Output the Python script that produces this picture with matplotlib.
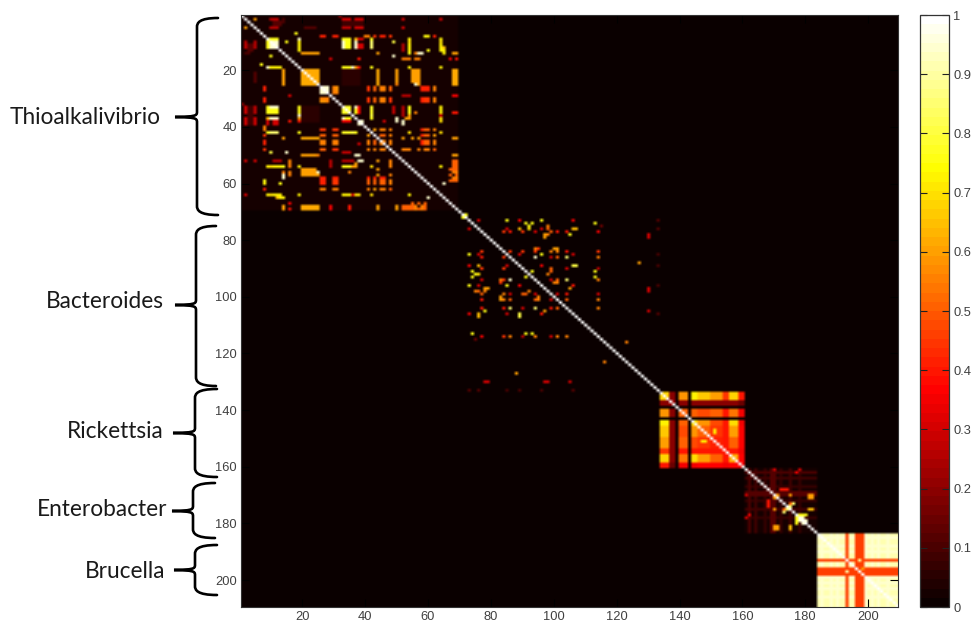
import numpy as np
import matplotlib
matplotlib.use("Agg")
import matplotlib.pyplot as plt
from matplotlib.path import Path
from matplotlib.patches import PathPatch
from matplotlib.colors import ListedColormap

N = 209
TICKS = list(range(20, 201, 20))
CBAR_TICKS = [i / 10 for i in range(11)]
CBAR_LABELS = ['0', '0.1', '0.2', '0.3', '0.4', '0.5', '0.6', '0.7', '0.8', '0.9', '1']

GROUP_NAMES = ['Thioalkalivibrio', 'Bacteroides', 'Rickettsia', 'Enterobacter', 'Brucella']

# (row0, row1, col0, col1, value), 1-indexed, mirrored across the diagonal
thio_patches = [
 (2,2,5,5,.6),(2,2,11,12,.28),(2,2,33,35,.3),(2,2,37,39,.3),(1,1,32,32,.2),(2,3,14,14,.1),
 (3,4,11,13,.12),(3,4,33,39,.08),(5,5,21,24,.12),(7,7,18,18,.75),
 (8,8,26,27,.42),(8,8,41,41,.55),(8,8,43,43,.45),(8,8,45,46,.42),(8,8,48,48,.45),(8,8,59,59,.75),(8,8,62,62,.42),(8,8,30,31,.2),
 (9,12,9,9,.75),(9,9,10,12,.75),(9,9,19,19,.95),(9,9,33,35,.72),(9,9,37,37,.65),(9,9,42,42,.75),(9,9,54,54,.72),(9,9,64,64,.7),
 (10,10,15,15,.75),(10,10,49,49,.8),
 (10,12,10,12,.95),(10,12,19,19,.72),(10,12,33,33,.95),(10,12,34,35,.72),(10,12,37,37,.95),(10,12,42,42,.75),(10,12,54,54,.7),(10,12,64,64,.7),(10,12,2,2,.25),(10,12,5,5,.25),
 (12,13,65,65,.65),(13,13,60,60,.75),
 (14,14,20,25,.6),(14,14,44,44,.6),(14,14,54,54,.75),(14,14,57,57,.95),(14,14,68,69,.55),
 (15,15,49,49,.95),(15,15,10,10,.7),(16,16,29,29,.3),(16,16,52,54,.55),(16,16,56,57,.55),(16,16,67,67,.35),(16,16,69,69,.4),
 (19,19,11,13,.72),(19,19,33,35,.75),(19,19,36,36,.95),(19,19,37,37,.6),(19,19,42,42,.75),(19,19,54,54,.72),(19,19,64,64,.7),
 (20,25,20,25,.62),(20,24,14,14,.6),(20,24,44,44,.6),(20,24,50,50,.6),(20,24,55,55,.6),(20,24,57,57,.6),(20,24,68,68,.58),(20,25,33,38,.06),
 (26,27,8,8,.42),(26,28,26,28,.95),(26,27,30,30,.25),(26,27,31,31,.58),(26,27,41,41,.45),(26,27,43,43,.5),(26,27,45,46,.55),(26,27,48,48,.5),(26,27,58,60,.42),(26,27,62,62,.55),
 (29,29,16,16,.25),(29,29,68,68,.3),(29,29,52,54,.25),
 (30,31,8,8,.42),(30,31,26,28,.55),(30,31,41,41,.45),(30,31,43,43,.5),(30,31,45,46,.55),(30,31,48,48,.45),(30,31,58,60,.42),(30,31,62,62,.55),
 (33,35,2,2,.3),(33,35,5,5,.28),(33,35,9,9,.75),(33,35,10,12,.75),(33,35,19,19,.72),(33,35,33,35,.78),(33,35,37,37,.7),(33,35,38,38,.28),(33,35,42,42,.75),(33,35,49,49,.28),(33,33,54,54,.72),(33,35,64,64,.72),
 (37,39,2,2,.3),(37,39,5,5,.3),(37,39,11,12,.3),(37,37,10,12,.95),(37,39,9,9,.3),(37,38,33,35,.35),(37,37,33,33,.95),(37,37,34,35,.75),(38,39,38,39,.95),(37,37,42,42,.75),(37,38,50,50,.95),(37,37,53,54,.6),(37,38,64,64,.7),(38,38,16,16,.4),(38,38,19,19,.4),(38,38,46,46,.3),
 (40,41,8,8,.55),(41,41,26,27,.45),(41,41,30,31,.45),(41,41,41,41,.55),(41,41,43,43,.6),(41,41,45,46,.55),(41,41,48,48,.55),(41,41,58,60,.42),(41,41,62,62,.55),
 (42,42,10,12,.85),(42,42,19,19,.7),(42,42,33,35,.78),(42,42,36,36,.8),(42,42,37,37,.65),(42,42,9,9,.75),(42,42,42,42,.9),(42,42,54,54,.7),(42,42,64,64,.7),
 (44,44,14,14,.6),(44,44,20,25,.62),(44,44,52,52,.6),(44,44,55,55,.6),(44,44,57,57,.6),(44,44,68,68,.55),
 (43,43,8,8,.45),(43,43,26,27,.42),(43,43,30,31,.45),(43,43,41,41,.5),(43,43,43,43,.5),(43,43,45,46,.5),(43,43,48,48,.5),(43,43,58,60,.42),(43,43,62,62,.6),
 (45,46,8,8,.42),(45,46,26,27,.55),(45,46,30,30,.3),(45,46,31,31,.5),(45,46,41,41,.45),(45,46,43,43,.5),(45,46,45,46,.55),(45,46,48,48,.5),(45,46,58,60,.42),(45,46,62,62,.55),
 (48,48,8,8,.3),(48,48,26,27,.45),(48,48,30,31,.45),(48,48,41,41,.55),(48,48,43,43,.55),(48,48,45,46,.55),(48,48,48,48,.6),(48,48,52,54,.55),(48,48,57,57,.55),(48,48,59,60,.42),(48,48,62,62,.45),
 (50,50,20,25,.55),(52,52,38,39,.95),(52,52,2,2,.3),(52,52,5,5,.3),(52,52,11,13,.25),(52,52,33,36,.25),
 (54,54,9,9,.72),(54,54,11,13,.72),(54,54,16,16,.55),(54,54,19,19,.72),(54,54,33,35,.75),(54,54,36,36,.6),
 (56,56,20,24,.6),(56,56,25,25,.95),(56,56,14,14,.55),(56,56,35,35,.55),(57,57,20,25,.6),(58,58,14,14,.95),
 (59,60,8,8,.72),(59,60,26,27,.42),(59,60,30,31,.45),(59,60,41,41,.5),(59,60,43,43,.5),(59,60,45,46,.5),(59,60,48,48,.55),(60,60,13,13,.75),
 (62,62,8,8,.42),(62,62,26,27,.55),(62,62,31,31,.55),(62,62,41,41,.5),(62,62,43,43,.5),(62,62,45,46,.55),(62,62,48,48,.5),
 (64,64,2,2,.3),(64,64,9,9,.72),(64,64,11,13,.72),(64,64,19,19,.72),(64,64,33,35,.68),(64,64,36,38,.3),(64,64,42,42,.7),(64,64,54,54,.72),
 (65,65,13,14,.72),(65,65,60,60,.95),
 (68,69,14,14,.6),(68,69,20,25,.62),(68,69,50,50,.6),(68,68,52,54,.5),(69,69,52,54,.5),(68,69,56,56,.55),(68,69,58,58,.55),(68,69,44,44,.6),(68,69,29,29,.35),(68,69,35,35,.4),
 (55,55,67,69,.5),(57,57,67,67,.5),(57,57,69,69,.5),(59,59,67,69,.5),(71,72,71,72,.75),
]

# (col, row, value), 1-indexed, mirrored across the diagonal
bact_points = [
 (85,73,.75),(89,73,.35),(76,73,.2),(91,74,.75),(93,74,.75),(92,75,.75),(96,73,.75),(98,75,.55),(106,73,.35),(113,74,.75),(115,75,.15),
 (89,76,.65),(85,76,.3),(96,76,.3),(106,76,.65),(107,76,.65),(84,77,.45),(86,77,.35),(90,77,.45),(94,77,.2),(99,77,.5),(101,77,.3),(104,77,.4),(114,77,.3),
 (97,78,.55),(98,78,.55),(105,78,.75),(130,78,.25),(100,83,.6),(101,83,.6),(95,83,.45),(90,84,.4),(94,84,.3),(99,84,.45),(101,84,.55),(104,84,.35),(114,84,.35),
 (96,85,.75),(106,85,.3),(94,86,.95),(104,86,.85),(101,86,.5),(99,86,.3),(114,86,.5),(96,89,.3),(106,89,.8),(107,89,.8),(127,88,.6),(99,90,.35),(104,90,.15),
 (93,91,.75),(113,91,.75),(98,92,.5),(113,93,.75),(114,94,.55),(101,94,.5),(104,94,.85),(100,95,.55),(101,95,.55),(106,96,.4),(105,97,.5),(130,97,.2),
 (104,99,.4),(114,99,.3),(99,101,.3),(104,101,.5),(114,101,.5),(114,104,.5),(101,104,.5),(130,105,.3),(123,116,.55),
 (73,76,.3),(73,85,.75),(77,84,.4),(76,85,.3),(77,86,.4),(73,89,.25),(76,89,.6),(77,90,.4),(74,91,.75),(75,92,.7),(76,92,.7),(74,93,.75),(77,94,.3),(73,96,.75),(76,96,.3),
 (78,97,.6),(79,97,.6),(75,98,.5),(76,98,.5),(77,99,.45),(77,101,.4),(77,104,.4),(78,105,.75),(76,106,.55),(73,106,.3),
 (74,113,.75),(77,114,.35),(84,114,.45),(86,114,.55),(90,114,.25),(91,113,.75),(93,113,.75),(94,114,.55),(99,114,.3),(101,114,.55),(104,114,.55),
 (84,86,.45),(84,90,.45),(84,94,.45),(84,99,.55),(84,101,.45),(84,104,.4),(86,94,.95),(86,101,.5),(86,104,.85),(85,89,.3),(85,96,.75),(85,106,.3),
 (83,94,.55),(83,100,.55),(89,106,.75),(89,96,.35),(90,99,.5),(91,99,.5),(90,104,.3),(92,98,.55),(94,104,.85),(94,101,.5),(94,99,.3),(95,100,.4),(96,106,.35),(97,105,.6),
 (78,130,.3),(79,130,.3),(97,130,.3),(98,130,.3),(105,130,.2),(73,133,.12),(76,133,.12),(85,133,.1),(89,133,.1),(96,133,.1),(106,133,.12),
]

rick_ranges = [(134,136),(137,138),(140,142),(144,145),(146,149),(150,153),(154,155),(156,158),(159,160)]
rick_values = [
 [.68,.20,.58,.72,.66,.60,.45,.68,.40],
 [.20,.22,.20,.20,.20,.20,.20,.20,.15],
 [.58,.20,.50,.50,.48,.50,.40,.54,.35],
 [.72,.20,.50,.70,.58,.48,.40,.70,.35],
 [.66,.20,.48,.58,.50,.45,.40,.60,.36],
 [.60,.20,.50,.48,.45,.42,.40,.50,.36],
 [.45,.20,.40,.40,.40,.40,.40,.40,.35],
 [.68,.20,.54,.70,.60,.50,.40,.62,.36],
 [.40,.15,.35,.35,.36,.36,.35,.36,.35],
]
rick_hot = [(148,151,.72),(151,147,.72),(147,147,.75),(152,152,.7),(154,138,.2)]

entero_cols = [162, 164, 167, 169, 170, 172, 175, 178]
entero_col_values = [.1, .09, .07, .12, .12, .07, .09, .07]
entero_points = [
 (170,181,.6),(171,181,.6),(170,182,.6),(171,182,.6),(175,181,.6),(175,182,.6),(170,175,.55),(181,170,.6),(182,170,.6),(175,170,.6),
 (172,168,.4),(173,168,.4),(174,168,.4),(168,173,.35),(168,174,.35),(181,175,.65),(182,175,.65),
 (177,179,.75),(177,178,.75),(178,177,.75),(179,177,.75),(180,177,.75),(178,178,.9),(179,178,.95),(179,179,.95),(180,179,.95),(180,180,.95),
 (173,175,.5),(176,173,.85),(174,175,.85),(162,177,.35),(178,161,.3),(170,161,.3),(170,170,.7),(171,170,.6),
]

bruc_base = .91
bruc_light_rows = [185, 188, 190, 199, 201, 203, 206]
bruc_stripes = [193, 196, 197, 198]
bruc_stripe_value = .46
bruc_spots = [(197,193,.9),(193,197,.92),(198,196,.6)]

RX = '#404040'


def set_sym(M, r, c, v):
    M[r - 1, c - 1] = max(M[r - 1, c - 1], v)
    M[c - 1, r - 1] = max(M[c - 1, r - 1], v)


M = np.zeros((N, N))
M[:69, :69] = 0.02
M[72:115, 72:115] = 0.015
for r0, r1, c0, c1, v in thio_patches:
    for r in range(r0, r1 + 1):
        for c in range(c0, c1 + 1):
            set_sym(M, r, c, v)
for c, r, v in bact_points:
    set_sym(M, r, c, v)
for i, (a0, a1) in enumerate(rick_ranges):
    for j, (b0, b1) in enumerate(rick_ranges):
        M[a0 - 1:a1, b0 - 1:b1] = rick_values[i][j]
for c, r, v in rick_hot:
    set_sym(M, r, c, v)
M[160:183, 160:183] = 0.03
for c, v in zip(entero_cols, entero_col_values):
    M[160:183, c - 1] = np.maximum(M[160:183, c - 1], v)
    M[c - 1, 160:183] = np.maximum(M[c - 1, 160:183], v)
for c, r, v in entero_points:
    set_sym(M, r, c, v)
M[183:, 183:] = bruc_base
for r in bruc_light_rows:
    M[r - 1, 183:] = .94
    M[183:, r - 1] = .94
for s in bruc_stripes:
    M[s - 1, 183:] = bruc_stripe_value
    M[183:, s - 1] = bruc_stripe_value
for c, r, v in bruc_spots:
    M[r - 1, c - 1] = v
np.fill_diagonal(M, 1.0)

plt.rcParams['font.family'] = ['Liberation Sans', 'DejaVu Sans']
W, H = 972, 625
fig = plt.figure(figsize=(W / 100, H / 100), dpi=100, facecolor='white')


def rect(l, t, r, b):
    return [l / W, 1 - b / H, (r - l) / W, (b - t) / H]


cmap = ListedColormap(plt.get_cmap('hot')(np.linspace(0, 1, 64)))
ax = fig.add_axes(rect(241, 15, 898, 607))
im = ax.imshow(M, cmap=cmap, vmin=0, vmax=1, aspect='auto', interpolation='bilinear',
               interpolation_stage='rgba', extent=(0.5, N + 0.5, N + 0.5, 0.5))
ax.set_xticks(TICKS)
ax.set_yticks(TICKS)
ax.tick_params(direction='in', top=True, right=True, length=6, width=0.8, color='black',
               labelsize=9.3, labelcolor=RX, pad=3)
for s in ax.spines.values():
    s.set_linewidth(0.8)
    s.set_color('#333333')

cax = fig.add_axes(rect(920, 15, 949, 607))
cb = fig.colorbar(im, cax=cax, ticks=CBAR_TICKS)
cb.ax.set_yticklabels(CBAR_LABELS)
cb.ax.tick_params(direction='in', left=True, right=True, length=5, width=0.8, color='#222222',
                  labelsize=9.3, labelcolor=RX, pad=3)
cb.outline.set_linewidth(0.9)
cb.outline.set_edgecolor('#333333')

ov = fig.add_axes([0, 0, 1, 1], facecolor='none')
ov.set_xlim(0, W)
ov.set_ylim(H, 0)
ov.axis('off')

# top, mid, bottom, spine x, tip x, point x
braces = [
 (18, 117, 215, 197, 218, 175),
 (226, 305, 386, 196, 216, 175),
 (389, 433, 477, 195, 217, 173),
 (483, 511, 538, 193, 215, 172),
 (545, 570, 595, 195, 217, 174),
]
for t, m, b, sx, tx, px in braces:
    verts = [(tx, t), (sx + 2, t), (sx, t + 5), (sx, t + 9),
             (sx, m - 5), (sx, m - 1), (sx - 2, m - .5), (px, m),
             (sx - 2, m + .5), (sx, m + 1), (sx, m + 5),
             (sx, b - 9), (sx, b - 5), (sx + 2, b), (tx, b)]
    codes = [Path.MOVETO, Path.CURVE4, Path.CURVE4, Path.CURVE4,
             Path.LINETO, Path.CURVE4, Path.CURVE4, Path.CURVE4,
             Path.CURVE4, Path.CURVE4, Path.CURVE4,
             Path.LINETO, Path.CURVE4, Path.CURVE4, Path.CURVE4]
    ov.add_patch(PathPatch(Path(verts, codes), fc='none', ec='black', lw=1.9, capstyle='round'))

label_pos = [(161, 117), (164, 301), (164, 432), (167, 509), (165, 571)]
for name, (x, y) in zip(GROUP_NAMES, label_pos):
    ov.text(x, y, name, ha='right', va='center', fontsize=16.3, color='#1a1a1a', family=['Lato', 'DejaVu Sans'])

fig.savefig('out.png', dpi=100, facecolor='white')
